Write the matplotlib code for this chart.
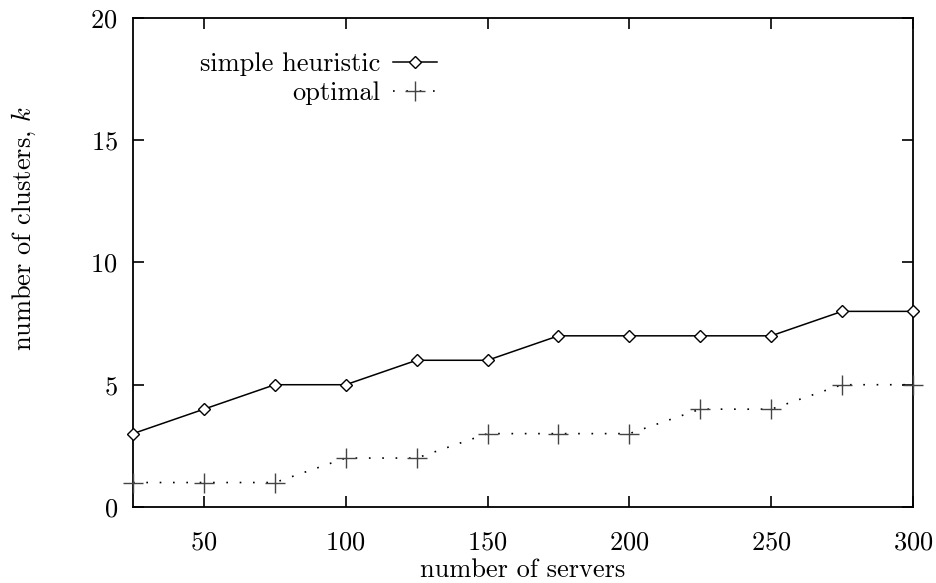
"""Cluster count vs. number of servers."""
import matplotlib
matplotlib.use("Agg")
import matplotlib.pyplot as plt

servers = [25, 50, 75, 100, 125, 150, 175, 200, 225, 250, 275, 300]
heuristic_k = [3, 4, 5, 5, 6, 6, 7, 7, 7, 7, 8, 8]
optimal_k = [1, 1, 1, 2, 2, 3, 3, 3, 4, 4, 5, 5]

x_ticks = [50, 100, 150, 200, 250, 300]
y_ticks = [0, 5, 10, 15, 20]

plt.rcParams["font.family"] = "serif"
plt.rcParams["font.serif"] = ["cmr10"]
plt.rcParams["mathtext.fontset"] = "cm"
plt.rcParams["axes.formatter.use_mathtext"] = True
plt.rcParams["font.size"] = 19

fig = plt.figure(figsize=(9.36, 5.83), dpi=100)
ax = fig.add_axes([0.1421, 0.1304, 0.8333, 0.8388])

ax.plot(servers, heuristic_k, color="black", linewidth=1.1,
        marker="D", markersize=6.5, markerfacecolor="white",
        markeredgecolor="black", markeredgewidth=1.0,
        label="simple heuristic", clip_on=False, zorder=3)
ax.plot(servers, optimal_k, color="black", linewidth=1.2,
        linestyle=(0, (1, 7)), marker="+", markersize=14,
        markeredgewidth=1.0, markeredgecolor="#444444",
        label="optimal", clip_on=False, zorder=3)

ax.set_xlim(25, 300)
ax.set_ylim(0, 20)
ax.set_xticks(x_ticks)
ax.set_yticks(y_ticks)
ax.tick_params(direction="in", length=8, width=1.2, top=True, right=True)
ax.tick_params(axis="x", pad=17)
ax.tick_params(axis="y", pad=11)
for spine in ax.spines.values():
    spine.set_linewidth(1.3)

ax.set_xlabel("number of servers", labelpad=3)
ax.set_ylabel("number of clusters, $k$")
ax.yaxis.set_label_coords(-0.122, 0.57)

ax.legend(loc="upper right", bbox_to_anchor=(0.39, 0.93), markerfirst=False,
          frameon=False, handlelength=1.67, handletextpad=0.5,
          labelspacing=0.2, borderaxespad=0.0, borderpad=0.0)

fig.savefig("out.png", dpi=100)
